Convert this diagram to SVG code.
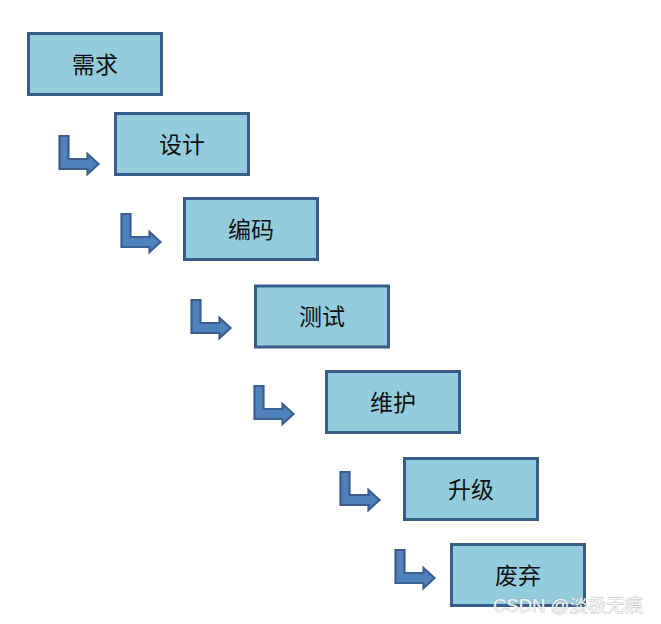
<svg xmlns="http://www.w3.org/2000/svg" xmlns:xlink="http://www.w3.org/1999/xlink" width="661" height="624" viewBox="0 0 661 624">
<style>
.box{fill:#93CDDD;stroke:#385D8A;stroke-width:3}
.lbl{font-family:"Noto Sans CJK SC","Noto Sans",sans-serif;font-size:23px;fill:#111;text-anchor:middle}
.arr{fill:#4F81BD;stroke:#3A5F8F;stroke-width:2.2;stroke-linejoin:miter}
.wm{font-family:"Liberation Sans","Noto Sans CJK SC",sans-serif;font-size:18.5px;fill:#f6f6f6;stroke:#9a9a9a;stroke-width:0.5;paint-order:stroke}
</style>
<defs>
<path id="bent" class="arr" d="M1,1 H10 V24 H29 V19 L40,29 L29,39 V34 H1 Z"/>
</defs>
<rect width="661" height="624" fill="#ffffff"/>
<g id="n1"><rect class="box" x="28.5" y="33.5" width="133" height="61"/><text class="lbl" x="95" y="72.5">需求</text></g>
<g id="n2"><rect class="box" x="115.5" y="113.5" width="133" height="61"/><text class="lbl" x="182" y="152.5">设计</text></g>
<g id="n3"><rect class="box" x="184.5" y="198.5" width="133" height="61"/><text class="lbl" x="251" y="238">编码</text></g>
<g id="n4"><rect class="box" x="255.5" y="286" width="133" height="61"/><text class="lbl" x="322" y="325">测试</text></g>
<g id="n5"><rect class="box" x="326.5" y="371.5" width="133" height="61"/><text class="lbl" x="393" y="411">维护</text></g>
<g id="n6"><rect class="box" x="404.5" y="458.5" width="133" height="61"/><text class="lbl" x="471" y="497.5">升级</text></g>
<g id="n7"><rect class="box" x="451.5" y="544.5" width="133" height="61"/><text class="lbl" x="518" y="583.5">废弃</text></g>
<g id="connectors">
<use xlink:href="#bent" href="#bent" x="58.5" y="135"/>
<use xlink:href="#bent" href="#bent" x="120.5" y="213"/>
<use xlink:href="#bent" href="#bent" x="190.5" y="299"/>
<use xlink:href="#bent" href="#bent" x="253.5" y="385"/>
<use xlink:href="#bent" href="#bent" x="339.5" y="471"/>
<use xlink:href="#bent" href="#bent" x="394.5" y="549"/>
</g>
<text class="wm" x="493" y="612">CSDN @淡极无痕</text>
</svg>
